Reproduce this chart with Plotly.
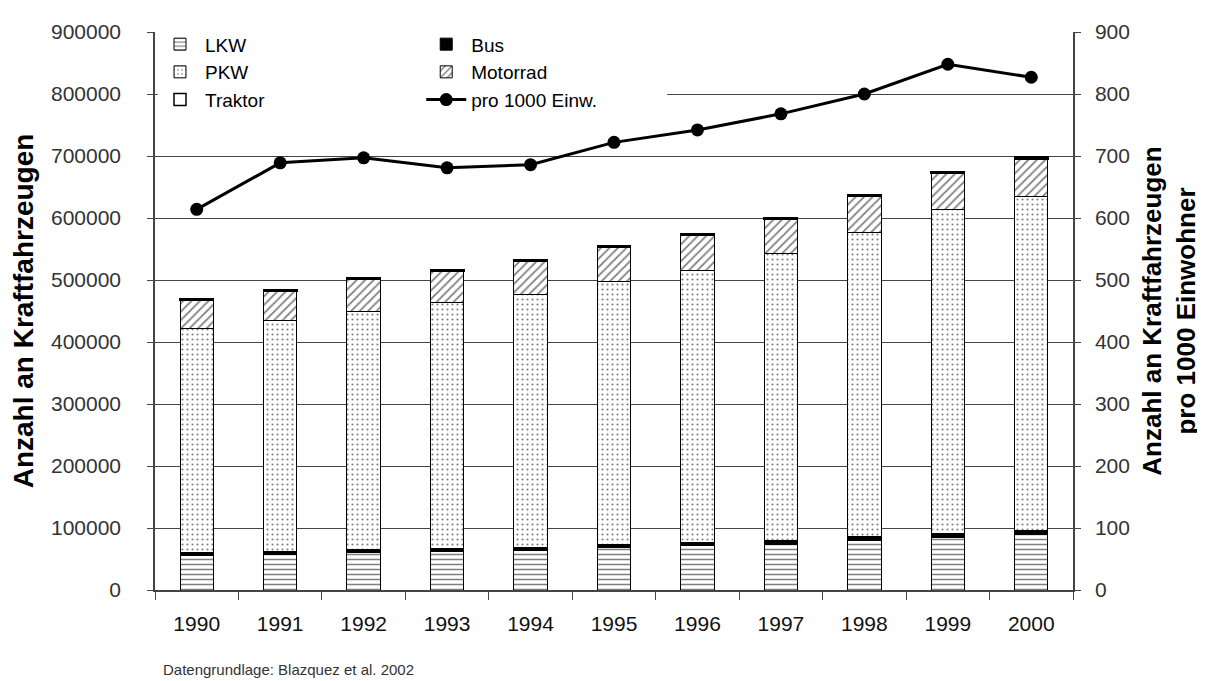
import plotly.graph_objects as go

years = ["1990", "1991", "1992", "1993", "1994", "1995", "1996", "1997", "1998", "1999", "2000"]
lkw = [55000, 57000, 60000, 62000, 64000, 69000, 71000, 74000, 80000, 85000, 90000]
bus = [5000, 5000, 5000, 5000, 5000, 5000, 5000, 5500, 6000, 6000, 6500]
pkw = [362000, 372000, 385000, 397000, 408000, 423000, 440000, 463500, 491000, 522000, 538500]
motorrad = [45500, 48500, 50500, 49500, 52500, 55500, 55500, 55500, 57500, 58500, 60500]
traktor = [2500, 2500, 2500, 2500, 2500, 2500, 2500, 2500, 2500, 2500, 2500]
pro1000 = [614, 689, 697, 681, 686, 722, 742, 768, 800, 848, 827]

FONT = "Liberation Sans, Arial, sans-serif"
TITLEFONT = "Liberation Sans, Arial, sans-serif"
BW = 0.4
outline = dict(color="black", width=1)

fig = go.Figure()
fig.add_trace(go.Bar(x=years, y=lkw, name="LKW", width=BW, legend="legend",
                     marker=dict(color="white", line=outline,
                                 pattern=dict(shape="-", fgcolor="black", bgcolor="white", size=5, solidity=0.3))))
fig.add_trace(go.Bar(x=years, y=bus, name="Bus", width=BW, legend="legend2",
                     marker=dict(color="black", line=outline)))
fig.add_trace(go.Bar(x=years, y=pkw, name="PKW", width=BW, legend="legend",
                     marker=dict(color="white", line=outline,
                                 pattern=dict(shape=".", fgcolor="black", bgcolor="white", size=5, solidity=0.15))))
fig.add_trace(go.Bar(x=years, y=motorrad, name="Motorrad", width=BW, legend="legend2",
                     marker=dict(color="white", line=outline,
                                 pattern=dict(shape="/", fgcolor="black", bgcolor="white", size=6, solidity=0.3))))
fig.add_trace(go.Bar(x=years, y=traktor, name="Traktor", width=BW, legend="legend",
                     marker=dict(color="white", line=dict(color="black", width=1.5))))
fig.add_trace(go.Scatter(x=years, y=pro1000, name="pro 1000 Einw.", yaxis="y2", legend="legend2",
                         mode="lines+markers", line=dict(color="black", width=3),
                         marker=dict(color="black", size=13, symbol="circle")))

legend_common = dict(font=dict(family=FONT, size=19, color="black"), bgcolor="rgba(0,0,0,0)",
                     xref="paper", yref="paper", xanchor="left", yanchor="top",
                     tracegroupgap=0, itemwidth=40, traceorder="normal")

fig.update_layout(
    width=1205, height=681,
    margin=dict(l=147, r=140, t=24, b=99),
    paper_bgcolor="white", plot_bgcolor="white",
    barmode="stack",
    font=dict(family=FONT, color="#222"),
    showlegend=True,
    legend=dict(x=0.0, y=1.012, **legend_common),
    legend2=dict(x=0.29, y=1.012, **legend_common),
    xaxis=dict(type="category", showgrid=False, showline=True, linecolor="#444", linewidth=1.5,
               ticks="outside", tickson="boundaries", ticklen=8, tickcolor="#444",
               ticklabelstandoff=14,
               tickfont=dict(family=FONT, size=21, color="#111"), range=[-0.5, 10.5]),
    yaxis=dict(range=[0, 900000], dtick=100000, tickformat="d", showgrid=True, gridcolor="#444",
               gridwidth=1, showline=True, linecolor="#444", linewidth=1.5, ticks="outside",
               ticklen=6, tickcolor="#444", zeroline=False, ticklabelstandoff=22,
               tickfont=dict(family=FONT, size=21, color="#333"),
               title=dict(text="<b>Anzahl an Kraftfahrzeugen</b>", standoff=10,
                          font=dict(family=TITLEFONT, size=28, color="black"))),
    yaxis2=dict(range=[0, 900], dtick=100, overlaying="y", side="right", showgrid=False,
                showline=True, linecolor="#444", linewidth=1.5, ticks="outside", ticklen=6,
                tickcolor="#444", zeroline=False, ticklabelstandoff=10,
                tickfont=dict(family=FONT, size=21, color="#333"),
                title=dict(text="<b>Anzahl an Kraftfahrzeugen<br>pro 1000 Einwohner</b>", standoff=14,
                           font=dict(family=TITLEFONT, size=26, color="black"))),
    shapes=[dict(type="rect", xref="paper", yref="y", x0=0.003, x1=0.558, y0=770000, y1=830000,
                 fillcolor="white", line=dict(width=0), layer="above")],
    annotations=[dict(text="Datengrundlage: Blazquez et al. 2002", xref="paper", yref="paper",
                      x=0.006, y=-0.143, xanchor="left", yanchor="middle", showarrow=False,
                      font=dict(family=FONT, size=15, color="#333"))],
)

fig.write_html("out.html")
